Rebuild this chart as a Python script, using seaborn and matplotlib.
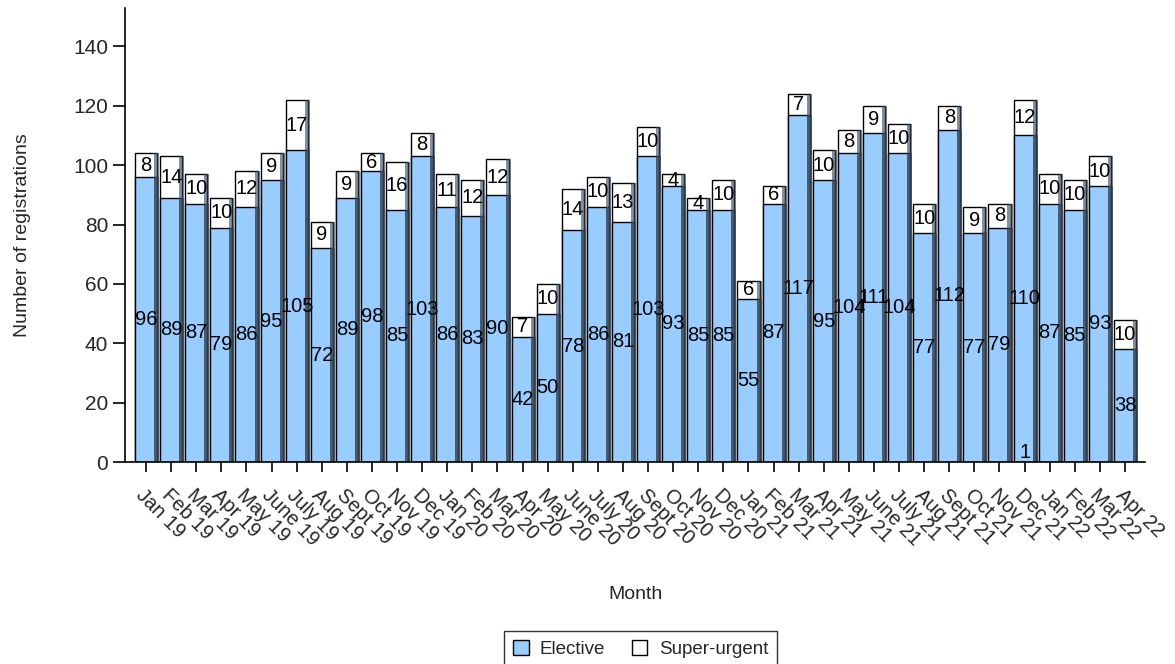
import numpy as np
import pandas as pd
import matplotlib
matplotlib.use('Agg')
import matplotlib.pyplot as plt
import seaborn as sns
from matplotlib.patches import Patch, Rectangle

months = ['Jan 19', 'Feb 19', 'Mar 19', 'Apr 19', 'May 19', 'June 19', 'July 19', 'Aug 19',
          'Sept 19', 'Oct 19', 'Nov 19', 'Dec 19', 'Jan 20', 'Feb 20', 'Mar 20', 'Apr 20',
          'May 20', 'June 20', 'July 20', 'Aug 20', 'Sept 20', 'Oct 20', 'Nov 20', 'Dec 20',
          'Jan 21', 'Feb 21', 'Mar 21', 'Apr 21', 'May 21', 'June 21', 'July 21', 'Aug 21',
          'Sept 21', 'Oct 21', 'Nov 21', 'Dec 21', 'Jan 22', 'Feb 22', 'Mar 22', 'Apr 22']
elective = [96, 89, 87, 79, 86, 95, 105, 72, 89, 98, 85, 103, 86, 83, 90, 42,
            50, 78, 86, 81, 103, 93, 85, 85, 55, 87, 117, 95, 104, 111, 104, 77,
            112, 77, 79, 110, 87, 85, 93, 38]
super_urgent = [8, 14, 10, 10, 12, 9, 17, 9, 9, 6, 16, 8, 11, 12, 12, 7,
                10, 14, 10, 13, 10, 4, 4, 10, 6, 6, 7, 10, 8, 9, 10, 10,
                8, 9, 8, 12, 10, 10, 10, 10]
# stray label shown at the foot of the Dec 21 bar
other = [0] * 35 + [1] + [0] * 4

sns.set_style('ticks')
plt.rcParams['font.family'] = ['Liberation Sans', 'DejaVu Sans']

total = [e + s for e, s in zip(elective, super_urgent)]
df = pd.DataFrame({'Month': months, 'Elective': elective,
                   'Super-urgent': super_urgent, 'Total': total})

fig = plt.figure(figsize=(11.75, 6.64), dpi=100)
ax = fig.add_axes([0.1064, 0.3042, 0.8681, 0.684])

blue = '#99CCFF'
sns.barplot(data=df, x='Month', y='Total', color='white', edgecolor='black',
            linewidth=1.0, width=0.88, ax=ax, saturation=1, order=months)
sns.barplot(data=df, x='Month', y='Elective', color=blue, edgecolor='black',
            linewidth=1.0, width=0.88, ax=ax, saturation=1, order=months)

# shadow stripe at the right edge of each bar
for p in list(ax.patches):
    x = p.get_x() + p.get_width()
    ax.add_patch(Rectangle((x - 0.12, 0), 0.2, p.get_height(),
                           facecolor='#34465a', alpha=0.6, edgecolor='none',
                           zorder=p.get_zorder() + 0.1))

for i, (e, s, o) in enumerate(zip(elective, super_urgent, other)):
    ax.text(i, e / 2, str(e), ha='center', va='center', fontsize=14.5, color='black', zorder=5)
    ax.text(i, e + s / 2, str(s), ha='center', va='center', fontsize=14.5, color='black', zorder=5)
    if o:
        ax.text(i, 0.0, str(o), ha='center', va='bottom', fontsize=14.5, color='black', zorder=5)

ax.set_xlim(-0.84, 39.8)
ax.set_ylim(0, 153)
ax.set_yticks(np.arange(0, 141, 20))
ax.tick_params(axis='y', labelsize=15, length=9, width=1.2, color='black', pad=3)
ax.tick_params(axis='x', labelsize=14.5, length=7, width=1.2, color='black', pad=10)
ax.set_xticks(range(len(months)))
ax.set_xticklabels(months, rotation=-45, ha='left', va='top', rotation_mode='anchor')

for sp in ['top', 'right']:
    ax.spines[sp].set_visible(False)
for sp in ['left', 'bottom']:
    ax.spines[sp].set_color('black')
    ax.spines[sp].set_linewidth(1.2)

ax.set_xlabel('Month', fontsize=14)
ax.set_ylabel('Number of registrations', fontsize=14)
ax.xaxis.set_label_coords(0.5, -0.272)
ax.yaxis.set_label_coords(-0.092, 0.5)

handles = [Patch(facecolor=blue, edgecolor='black', label='Elective'),
           Patch(facecolor='white', edgecolor='black', label='Super-urgent')]
leg = fig.legend(handles=handles, loc='lower center', bbox_to_anchor=(0.545, -0.012), ncol=2,
                 frameon=True, fancybox=False, edgecolor='black', fontsize=13.5,
                 handlelength=0.85, handleheight=0.85, handletextpad=0.6,
                 columnspacing=1.4, borderpad=0.45, borderaxespad=0.3)
leg.get_frame().set_linewidth(1.0)

fig.savefig('out.png', dpi=100)
